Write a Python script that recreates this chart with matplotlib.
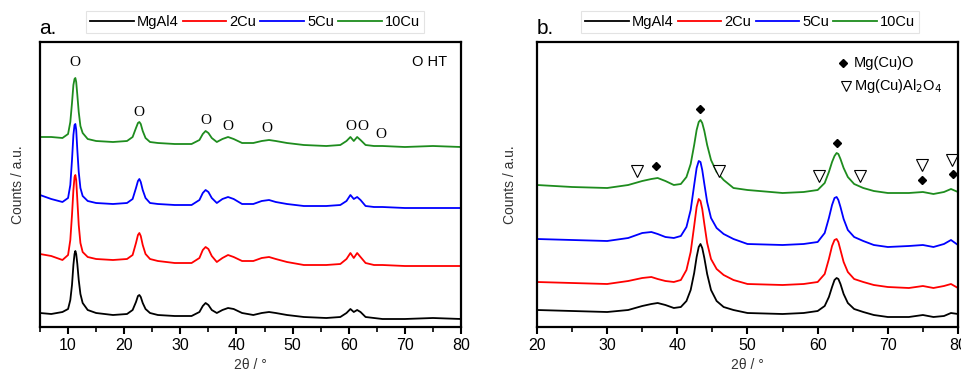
import matplotlib
matplotlib.use('Agg')
import matplotlib.pyplot as plt
from matplotlib.lines import Line2D

plt.rcParams['font.family'] = ['Liberation Sans', 'DejaVu Sans']

# ---- data, panel a (as-synthesised hydrotalcites) ----
names = ['MgAl4', '2Cu', '5Cu', '10Cu']
colors = ['black', '#ff0000', '#0000ff', '#1e8c1e']

xa = [5, 7, 9, 10, 10.4, 10.7, 10.95, 11.15, 11.3, 11.45, 11.65, 11.9, 12.2, 12.6, 13.5,
      15, 18, 20.5, 21.5, 22.1, 22.45, 22.7, 22.95, 23.3, 23.8, 24.6, 26, 29, 32, 33.4,
      34.0, 34.5, 35.0, 35.6, 36.5, 37.5, 38.5, 39.5, 41, 43, 44.5, 45.8, 47, 49, 52, 56,
      58.5, 59.6, 60.3, 60.9, 61.5, 62.1, 63, 64.5, 66, 70, 75, 80]
ya_mgal4 = [14, 13, 15, 18, 27, 42, 62, 73, 76, 73, 63, 47, 33, 24, 17, 14, 12, 13, 17, 25,
            31, 32, 30, 24, 18, 14, 12, 11, 11, 15, 21, 24, 22, 17, 14, 17, 19, 18, 14, 12,
            14, 15, 14, 12, 10, 9, 10, 14, 18, 15, 17, 15, 10, 9, 8, 8, 9, 8]
ya_2cu = [73, 71, 67, 72, 87, 112, 137, 150, 152, 147, 127, 102, 84, 75, 70, 68, 67, 68, 72,
          84, 92, 94, 91, 82, 73, 68, 66, 64, 64, 69, 77, 80, 78, 71, 65, 69, 72, 70, 66, 66,
          69, 70, 68, 65, 62, 62, 63, 68, 74, 69, 74, 70, 64, 62, 62, 61, 61, 61]
ya_5cu = [132, 128, 125, 129, 142, 167, 192, 202, 203, 197, 177, 155, 139, 131, 126, 124,
          123, 124, 128, 139, 146, 148, 145, 137, 129, 124, 123, 122, 122, 127, 134, 137,
          135, 129, 124, 128, 130, 128, 123, 123, 126, 127, 125, 123, 121, 121, 122, 126,
          132, 128, 130, 127, 121, 120, 120, 119, 119, 119]
ya_10cu = [190, 190, 189, 193, 205, 224, 242, 248, 249, 245, 232, 215, 201, 194, 188, 186,
           185, 186, 190, 199, 204, 205, 203, 196, 189, 185, 184, 183, 183, 187, 193, 196,
           194, 189, 185, 188, 190, 188, 184, 184, 186, 187, 186, 184, 182, 181, 182, 186,
           190, 186, 190, 187, 182, 181, 181, 180, 181, 180]

# HT reflection markers
ht_x = [11.3, 22.7, 34.5, 38.5, 45.5, 60.3, 62.5, 65.8]
ht_y = [265, 214, 206, 201, 199, 201, 201, 193]

# ---- data, panel b (calcined mixed oxides) ----
xb = [20, 25, 30, 33, 35, 36.3, 37.2, 38.3, 39.5, 40.5, 41.3, 41.9, 42.4, 42.75, 43.05,
      43.3, 43.55, 43.85, 44.25, 44.8, 45.6, 46.6, 48, 50, 55, 58, 60, 61, 61.6, 62.05,
      62.4, 62.7, 62.95, 63.25, 63.7, 64.3, 65.2, 66.5, 68, 70, 73, 75, 76.5, 78, 79, 80]
yb_mgal4 = [17, 16, 15, 17, 21, 23, 24, 22, 19, 20, 26, 37, 54, 70, 80, 83, 79, 69, 53, 37,
            26, 20, 17, 14, 13, 14, 16, 21, 30, 40, 47, 49, 48, 43, 33, 24, 18, 15, 12, 10,
            10, 12, 10, 11, 14, 13]
yb_2cu = [45, 44, 43, 46, 49, 50, 48, 46, 45, 47, 57, 75, 101, 120, 128, 126, 118, 103, 84,
          68, 58, 52, 47, 43, 42, 43, 45, 53, 68, 81, 87, 88, 85, 77, 65, 55, 48, 45, 42, 40,
          39, 41, 39, 41, 43, 39]
yb_5cu = [88, 87, 86, 89, 94, 95, 93, 90, 89, 91, 100, 117, 142, 159, 166, 165, 157, 143,
          125, 109, 99, 93, 88, 83, 82, 83, 85, 94, 109, 122, 129, 130, 127, 120, 108, 97,
          90, 86, 82, 80, 81, 82, 80, 83, 87, 82]
yb_10cu = [142, 140, 139, 142, 146, 148, 149, 146, 142, 143, 150, 163, 182, 197, 205, 207,
           204, 196, 182, 167, 155, 147, 139, 137, 134, 135, 137, 144, 155, 165, 171, 174,
           173, 168, 159, 150, 143, 139, 136, 134, 134, 135, 133, 135, 138, 135]

oxide_x = [37.0, 43.3, 62.8, 74.9, 79.3]
oxide_y = [161, 218, 184, 147, 153]
spinel_x = [34.3, 45.9, 60.2, 66.0, 74.9, 79.1]
spinel_y = [156, 156, 151, 151, 162, 167]

fig = plt.figure(figsize=(9.62, 3.74), dpi=100)
ax1 = fig.add_axes([40/962, 47/374, 421/962, 285/374])
ax2 = fig.add_axes([537/962, 47/374, 421/962, 285/374])

for y, c in zip([ya_mgal4, ya_2cu, ya_5cu, ya_10cu], colors):
    ax1.plot(xa, y, color=c, lw=1.3)
for y, c in zip([yb_mgal4, yb_2cu, yb_5cu, yb_10cu], colors):
    ax2.plot(xb, y, color=c, lw=1.3)

for x, y in zip(ht_x, ht_y):
    ax1.text(x, y, 'O', family='Liberation Serif', fontsize=11, ha='center', va='center')
ax1.text(0.967, 0.93, 'O HT', transform=ax1.transAxes, fontsize=10.5, ha='right', va='center')

ax2.plot(oxide_x, oxide_y, 'D', color='black', ms=4.2, clip_on=False)
ax2.plot(spinel_x, spinel_y, 'v', mfc='white', mec='black', mew=0.8, ms=8, clip_on=False)
ax2.plot([0.727], [0.925], 'D', color='black', ms=3.8, transform=ax2.transAxes)
ax2.text(0.752, 0.925, 'Mg(Cu)O', transform=ax2.transAxes, fontsize=10.5, va='center')
ax2.plot([0.733], [0.845], 'v', mfc='white', mec='black', mew=0.8, ms=7.5,
         transform=ax2.transAxes)
ax2.text(0.752, 0.845, 'Mg(Cu)Al$_2$O$_4$', transform=ax2.transAxes, fontsize=10.5,
         va='center')

for ax, lo, hi in [(ax1, 5, 80), (ax2, 20, 80)]:
    ax.set_xlim(lo, hi)
    ax.set_ylim(0, 285)
    ax.set_yticks([])
    ax.set_xticks(range(10 if lo == 5 else 20, 81, 10))
    ax.set_xticks(range(lo, 81, 5), minor=True)
    ax.tick_params(axis='x', which='major', direction='out', length=5, width=1.5,
                   labelsize=11.5, pad=3)
    ax.tick_params(axis='x', which='minor', direction='out', length=3.5, width=1.2)
    for s in ax.spines.values():
        s.set_linewidth(1.6)

fig.text(18/962, 1 - 185/374, 'Counts / a.u.', rotation=90, ha='center', va='center',
         fontsize=10, color='#333333')
fig.text(510/962, 1 - 185/374, 'Counts / a.u.', rotation=90, ha='center', va='center',
         fontsize=10, color='#333333')
fig.text(250/962, 1 - 365/374, '2θ / °', ha='center', va='center', fontsize=10, color='#333333')
fig.text(747/962, 1 - 365/374, '2θ / °', ha='center', va='center', fontsize=10, color='#333333')

fig.text(39/962, 1 - 29/374, 'a.', fontsize=15, va='center')
fig.text(537/962, 1 - 29/374, 'b.', fontsize=15, va='center')

handles = [Line2D([], [], color=c, lw=1.3) for c in colors]
for cx in [255/962, 750/962]:
    leg = fig.legend(handles, names, ncol=4, loc='center', bbox_to_anchor=(cx, 1 - 22/374),
                     fontsize=10.5, frameon=True, fancybox=False, handlelength=3.0,
                     handletextpad=0.2, columnspacing=0.3, borderpad=0.25)
    leg.get_frame().set_edgecolor('#dddddd')
    leg.get_frame().set_linewidth(0.8)

fig.savefig('out.png', dpi=100)
